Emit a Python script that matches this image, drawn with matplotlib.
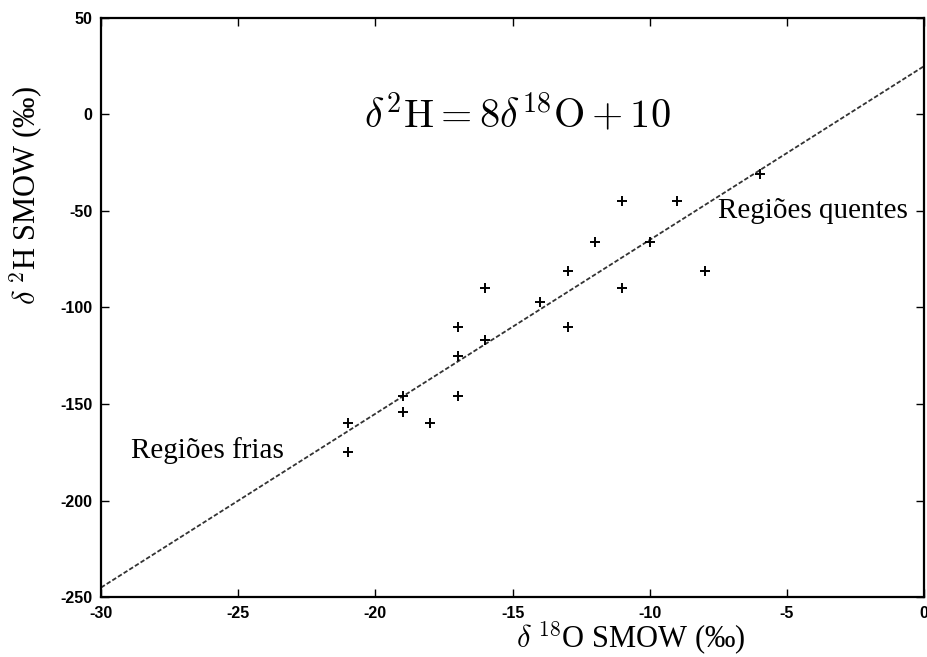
import numpy as np
import matplotlib
matplotlib.use("Agg")
import matplotlib.pyplot as plt

plt.rcParams["axes.unicode_minus"] = False
plt.rcParams["mathtext.fontset"] = "cm"

# data
d18O = [-21, -21, -19, -19, -18, -17, -17, -17, -16, -16,
        -14, -13, -13, -12, -11, -11, -10, -9, -8, -6]
d2H = [-160, -175, -146, -154, -160, -110, -125, -146, -90, -117,
       -97, -81, -110, -66, -45, -90, -66, -45, -81, -31]

line_slope = 9
line_icpt = 25
xticks = [-30, -25, -20, -15, -10, -5, 0]
yticks = [-250, -200, -150, -100, -50, 0, 50]

fig = plt.figure(figsize=(9.27, 6.57), dpi=100)
ax = fig.add_axes([0.109, 0.091, 0.888, 0.882])

xl = np.array([-30, 0])
ax.plot(xl, line_slope*xl + line_icpt, color="#333333", linestyle=(0, (2.5, 1.2)), linewidth=1.3)
ax.plot(d18O, d2H, "+", color="black", markersize=7, markeredgewidth=1.4)

ax.set_xlim(-30, 0)
ax.set_ylim(-250, 50)
ax.set_xticks(xticks)
ax.set_yticks(yticks)
ax.tick_params(direction="in", top=True, right=True, length=6, width=1, pad=6,
               labelsize=11.5)
for lab in ax.get_xticklabels() + ax.get_yticklabels():
    lab.set_family("Liberation Sans")
    lab.set_fontweight("bold")
for s in ax.spines.values():
    s.set_linewidth(1.6)

ax.text(-20.4, -1, r"$\delta^2\mathrm{H} = 8\delta^{18}\mathrm{O} + 10$", fontsize=29,
        va="center", ha="left")
ax.text(-7.5, -50, "Regiões quentes", fontsize=21, family="Liberation Serif",
        va="center", ha="left")
ax.text(-28.9, -174, "Regiões frias", fontsize=21, family="Liberation Serif",
        va="center", ha="left")

# axis labels sit off-centre in the original
fig.text(0.680, 0.029, r"$\delta$ $^{18}$O SMOW (‰)", fontsize=22, family="Liberation Serif",
         ha="center", va="center")
fig.text(0.028, 0.703, r"$\delta$ $^{2}$H SMOW (‰)", fontsize=22, family="Liberation Serif",
         ha="center", va="center", rotation=90)

fig.savefig("out.png", dpi=100)
